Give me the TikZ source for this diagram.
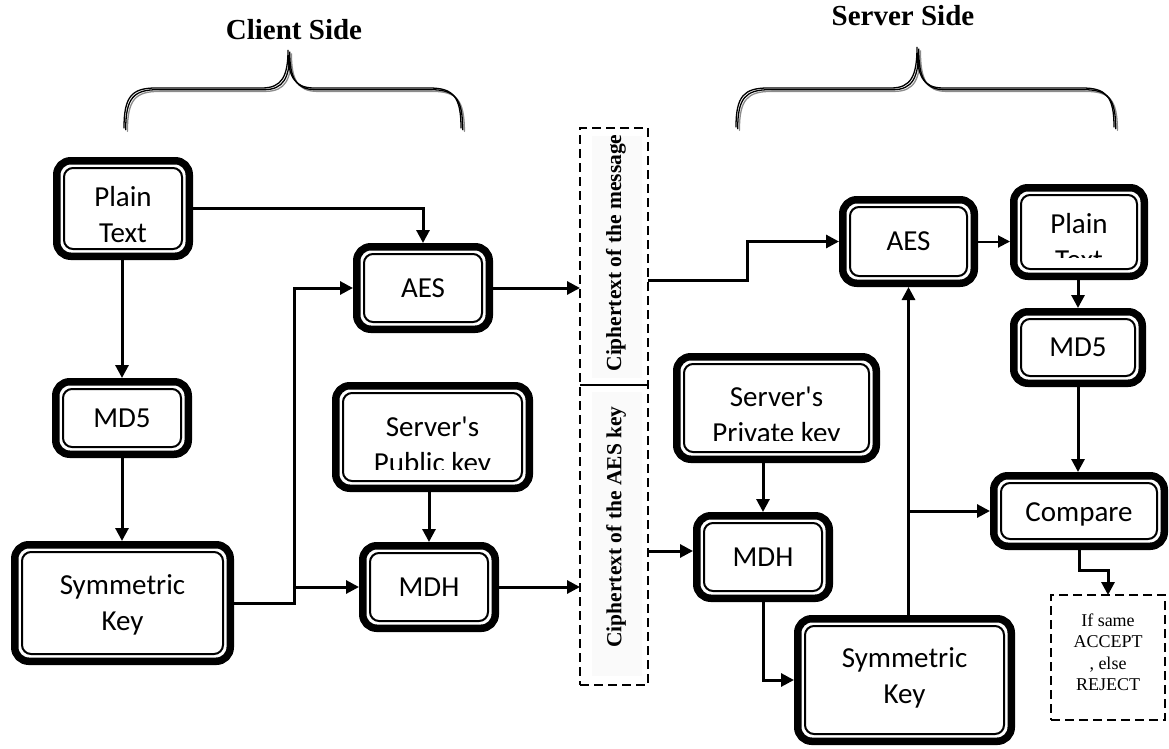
\documentclass[tikz,border=0pt]{standalone}
\usepackage{fontspec}
\setmainfont{Liberation Serif}
\newfontfamily\boxfont{Carlito}
\usetikzlibrary{arrows.meta,calc}

\tikzset{
  outerbox/.style={draw, line width=7.5pt, rounded corners=14pt, inner sep=0pt, fill=white},
  innerbox/.style={draw, line width=2pt, rounded corners=9pt},
  boxlabel/.style={font=\boxfont\fontsize{29}{36}\selectfont, align=center, inner sep=0pt},
  conn/.style={line width=3pt, -{Triangle[length=13pt,width=13pt]}},
  thinconn/.style={line width=2pt, -{Triangle[length=12pt,width=12pt]}},
  dashbox/.style={draw, line width=2pt, dash pattern=on 9pt off 5pt, inner sep=0pt, outer sep=0pt},
  sidetitle/.style={font=\bfseries\fontsize{29}{34}\selectfont, inner sep=0pt},
  vtext/.style={rotate=90, font=\bfseries\fontsize{21.5}{26}\selectfont, inner sep=0pt},
  bracepen/.style={line width=1.3pt, line cap=round},
}

% rounded box with a heavy outer frame and a thin inner frame
% #1 name, #2 x1, #3 y1, #4 x2, #5 y2, #6 text, #7 downward text shift
\newcommand\rbox[7]{%
  \node[outerbox, minimum width={#4pt-#2pt-7.5pt}, minimum height={#5pt-#3pt-7.5pt}]
    (#1) at ({(#2+#4)/2},{(#3+#5)/2}) {};
  \draw[innerbox] ([shift={(11,11)}]#1.north west) rectangle ([shift={(-11,-11)}]#1.south east);
  \node[boxlabel] (#1-t) at ([shift={(0,#7)}]#1.center) {#6};
}
% same box, with the label cut off above the lower frame
\newcommand\rboxcut[7]{%
  \node[outerbox, minimum width={#4pt-#2pt-7.5pt}, minimum height={#5pt-#3pt-7.5pt}]
    (#1) at ({(#2+#4)/2},{(#3+#5)/2}) {};
  \draw[innerbox] ([shift={(11,11)}]#1.north west) rectangle ([shift={(-11,-11)}]#1.south east);
  \begin{scope}
    \clip ([shift={(11,11)}]#1.north west) rectangle ([shift={(-11,-23)}]#1.south east);
    \node[boxlabel] (#1-t) at ([shift={(0,#7)}]#1.center) {#6};
  \end{scope}
}
% curly brace drawn as a three-stroke line
\newcommand\sidebrace[6]{% x-left, x-tip, x-right, y-bottom, y-bar, y-tip
  \foreach \o/\c in {3.4/black!45, 1.7/black, 0/black}{
    \draw[bracepen, draw=\c, shift={(\o,\o)}]
      (#1,#4) .. controls (#1,{#5+8}) and ({#1+8},#5) .. ({#1+32},#5)
      -- ({#2-26},#5) .. controls ({#2-6},#5) and (#2,{#5-12}) .. (#2,#6)
      .. controls (#2,{#5-12}) and ({#2+6},#5) .. ({#2+26},#5)
      -- ({#3-32},#5) .. controls ({#3-8},#5) and (#3,{#5+8}) .. (#3,#4);
  }
}

\begin{document}
\begin{tikzpicture}[x=1pt, y=-1pt]
\useasboundingbox (0,0) rectangle (1169,749);

% titles and braces
\node[sidetitle] (client) at (294,30) {Client Side};
\node[sidetitle] (server) at (903,16) {Server Side};
\sidebrace{124}{288}{461}{128}{88}{50}
\sidebrace{736}{917}{1114}{127}{88}{47}

% ---------------- client side ----------------
\rbox{plainC}{53}{157}{193}{260}{Plain\\Text}{6}
\rbox{mdC}{52}{378}{192}{458}{MD5}{0}
\rbox{symC}{11}{541}{234}{665}{Symmetric\\Key}{2}
\rbox{aesC}{353}{243}{493}{333}{AES}{0}
\rboxcut{pubK}{332}{382}{533}{492}{Server\textquotesingle s\\Public key}{10}
\rbox{mdhC}{359}{542}{499}{632}{MDH}{0}

% ---------------- transmitted ciphertexts ----------------
\fill[black!2] (592,136) rectangle (642,378);
\fill[black!2] (592,392) rectangle (642,676);
\node[dashbox, minimum width=68pt, minimum height=557pt] (wire) at (614,406.5) {};
\coordinate (cut) at (0,385);
\draw[line width=1.3pt] (wire.west |- cut) -- (wire.east |- cut);
\node[vtext] (msgct) at (616,253) {Ciphertext of the message};
\node[vtext] (keyct) at (616,527) {Ciphertext of the AES key};

% ---------------- server side ----------------
\rbox{aesS}{839}{196}{978}{287}{AES}{0}
\rboxcut{plainS}{1010}{184}{1148}{280}{Plain\\Text}{10}
\rbox{mdS}{1010}{308}{1146}{387}{MD5}{0}
\rboxcut{privK}{673}{353}{880}{463}{Server\textquotesingle s\\Private key}{9}
\rbox{mdhS}{693}{512}{833}{602}{MDH}{0}
\rbox{cmp}{990}{472}{1168}{550}{Compare}{3}
\rbox{symS}{794}{615}{1015}{745}{Symmetric\\Key}{-2}
\node[dashbox, minimum width=114pt, minimum height=125pt] (verdict) at (1108,657.5) {};
\node[align=center, inner sep=0pt, font=\fontsize{18}{21.5}\selectfont] (verdict-t) at (1108,652)
  {If same\\ACCEPT\\, else\\REJECT};

% ---------------- connectors: client ----------------
\coordinate (jc) at (294,0);
\draw[conn] (plainC.east) -| (aesC.north);
\draw[conn] (plainC.south -| mdC.north) -- (mdC.north);
\draw[conn] (mdC.south) -- (symC.north -| mdC.south);
\draw[conn] (symC.east) -| (jc |- aesC.west) -- (aesC.west);
\draw[conn] (jc |- mdhC.west) -- (mdhC.west);
\draw[conn] (pubK.south -| mdhC.north) -- (mdhC.north);
\draw[conn] (aesC.east) -- (aesC.east -| wire.west);
\draw[conn] (mdhC.east) -- (mdhC.east -| wire.west);

% ---------------- connectors: server ----------------
\coordinate (js) at (747,280);
\draw[conn] (wire.east |- js) -- (js) |- (aesS.west);
\coordinate (jm) at (0,551);
\draw[conn] (wire.east |- jm) -- (mdhS.west |- jm);
\draw[conn] (privK.south -| mdhS.north) -- (mdhS.north);
\draw[conn] (mdhS.south) |- (symS.west);
\draw[conn] (aesS.south |- symS.north) -- (aesS.south);
\draw[conn] (aesS.south |- cmp.west) -- (cmp.west);
\draw[thinconn] (aesS.east) -- (aesS.east -| plainS.west);
\draw[conn] (plainS.south -| mdS.north) -- (mdS.north);
\draw[conn] (mdS.south) -- (cmp.north -| mdS.south);
\draw[conn] (cmp.south) -- ++(0,20) -| (verdict.north);
\end{tikzpicture}
\end{document}
